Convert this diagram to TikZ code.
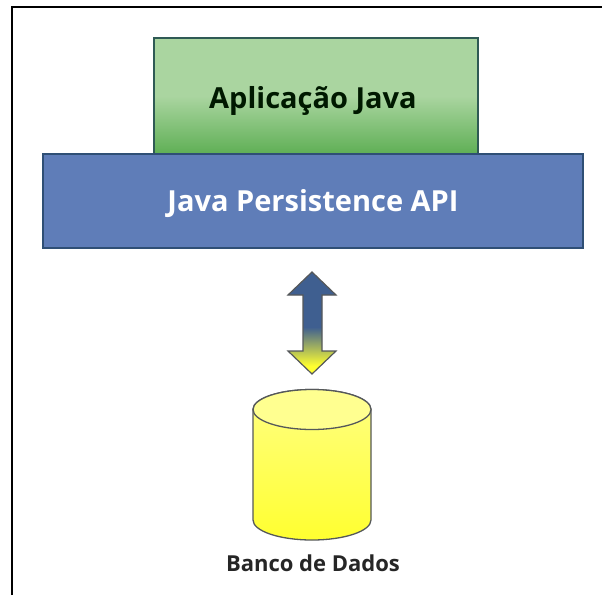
\documentclass[tikz,border=0pt]{standalone}
\usepackage{fontspec}
\setmainfont{Open Sans}
\definecolor{greentop}{HTML}{AAD5A0}
\definecolor{greenbot}{HTML}{5FAF55}
\definecolor{greenedge}{HTML}{2F5A55}
\definecolor{bluefill}{HTML}{5F7DB8}
\definecolor{blueedge}{HTML}{2F4F75}
\definecolor{arrowblue}{HTML}{3F5F90}
\definecolor{yel}{HTML}{FFFF30}
\definecolor{yeltop}{HTML}{FFFF90}
\definecolor{yeledge}{HTML}{55585A}
\pgfdeclareverticalshading{arrowshade}{100bp}{color(0bp)=(yel); color(29bp)=(yel); color(48bp)=(arrowblue); color(100bp)=(arrowblue)}
\pgfdeclareverticalshading{greenshade}{100bp}{color(0bp)=(greenbot); color(25bp)=(greenbot); color(50bp)=(greentop); color(100bp)=(greentop)}
\tikzset{
  textlabel/.style={inner sep=0pt},
  bigfont/.style={font=\bfseries\fontsize{29}{34}\selectfont},
  smallfont/.style={font=\bfseries\fontsize{22}{26}\selectfont},
}
\begin{document}
\begin{tikzpicture}[x=1pt,y=-1pt]
\useasboundingbox (0,0) rectangle (602,595);
\fill[white] (0,0) rectangle (602,595);
\draw[black,line width=2.2pt] (12,595) -- (12,6.7) -- (602,6.7);
% green box
\draw[greenedge,line width=1.3pt,shading=greenshade] (154,38) rectangle (478,154);
\node[textlabel,bigfont,text=black!90!green] (app) at (313,100.5) {Aplicação Java};
% blue box
\draw[blueedge,fill=bluefill,line width=1.3pt] (43,154) rectangle (583,248);
\node[textlabel,bigfont,text=white] (jpa) at (313,204) {Java Persistence API};
% arrow
\draw[yeledge,line width=1.2pt,shading=arrowshade]
 (312,272) -- (336,295) -- (322,295) -- (322,351) -- (336,351) -- (312,374) -- (288,351) -- (303,351) -- (303,295) -- (288,295) -- cycle;
% cylinder
\draw[yeledge,line width=1.3pt,top color=yel!60!white,bottom color=yel]
 (253,409.5) -- (253,520) arc[start angle=180,end angle=360,x radius=59pt,y radius=20pt] -- (371,409.5) arc[start angle=0,end angle=180,x radius=59pt,y radius=20pt] -- cycle;
\draw[yeledge,line width=1.3pt,fill=yeltop] (312,409.5) ellipse[x radius=59pt,y radius=20pt];
\node[textlabel,smallfont,text=black!85] (db) at (313,563) {Banco de Dados};
\end{tikzpicture}
\end{document}
